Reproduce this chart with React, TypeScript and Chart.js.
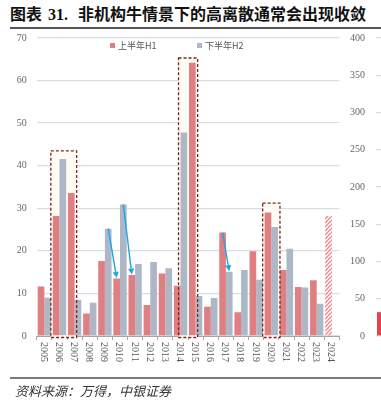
import React, { useEffect, useRef } from 'react';
import { Chart, registerables } from 'chart.js';

Chart.register(...registerables);

// ---- data ----
const years = ['2005', '2006', '2007', '2008', '2009', '2010', '2011', '2012', '2013', '2014', '2015', '2016', '2017', '2018', '2019', '2020', '2021', '2022', '2023', '2024'];
const h1Values = [11.6, 28.2, 33.6, 5.3, 17.6, 13.5, 14.3, 7.3, 14.7, 11.8, 64.2, 6.9, 24.3, 5.6, 19.9, 29.0, 15.5, 11.5, 13.1, 28.2];
const h2Values: (number | null)[] = [9.0, 41.6, 8.5, 7.8, 25.2, 30.9, 16.9, 17.4, 15.9, 47.8, 9.4, 8.9, 15.1, 15.5, 13.2, 25.6, 20.5, 11.4, 7.6, null];
const seriesNames = ['上半年H1', '下半年H2'];
const leftAxisMax = 70;
const leftAxisStep = 10;
const rightAxisMax = 400;
const rightAxisStep = 50;
const hatchedIndex = 19; // 2024 (partial year)
const sideLabels = [''];
const sideValues = [32];

// highlight boxes: from [dataset, index] to [dataset, index], top value
const boxes = [
  { from: [0, 1], to: [0, 2], top: 43.5 },
  { from: [1, 9], to: [0, 10], top: 65.3 },
  { from: [0, 15], to: [1, 15], top: 31.2 },
];
// arrows: from top of [dataset, index] to top of [dataset, index]
const arrows = [
  { from: [1, 4], to: [0, 5] },
  { from: [1, 5], to: [0, 6] },
  { from: [0, 12], to: [1, 12] },
];

const RED = '#E07F81';
const GREY = '#ADB7C5';
const GRID = '#D9DDE6';
const SERIF = '"Liberation Serif", "DejaVu Serif", serif';
const CJK = '"Noto Sans CJK SC", sans-serif';

function makeHatch(): CanvasPattern | string {
  const t = document.createElement('canvas');
  t.width = 4;
  t.height = 4;
  const c = t.getContext('2d');
  if (!c) return RED;
  c.fillStyle = '#ffffff';
  c.fillRect(0, 0, 4, 4);
  c.strokeStyle = '#E8878B';
  c.lineWidth = 1.3;
  c.beginPath();
  c.moveTo(0, 4);
  c.lineTo(4, 0);
  c.moveTo(-1, 1);
  c.lineTo(1, -1);
  c.moveTo(3, 5);
  c.lineTo(5, 3);
  c.stroke();
  const p = c.createPattern(t, 'repeat');
  return p || RED;
}

const decorPlugin = {
  id: 'decor',
  beforeDatasetsDraw(chart: any) {
    const ctx = chart.ctx;
    const y = chart.scales.y;
    ctx.save();
    ctx.fillStyle = '#FFFDF3';
    boxes.forEach((b) => {
      const e1 = chart.getDatasetMeta(b.from[0]).data[b.from[1]];
      const e2 = chart.getDatasetMeta(b.to[0]).data[b.to[1]];
      const l = e1.x - e1.width / 2 - 2;
      const r = e2.x + e2.width / 2 + 2;
      const t = y.getPixelForValue(b.top);
      const bt = y.getPixelForValue(0) + 1.5;
      ctx.fillRect(l, t, r - l, bt - t);
    });
    ctx.restore();
  },
  afterDatasetsDraw(chart: any) {
    const ctx = chart.ctx;
    const y = chart.scales.y;
    ctx.save();
    ctx.strokeStyle = '#7E2222';
    ctx.lineWidth = 1.3;
    ctx.setLineDash([3, 2]);
    boxes.forEach((b) => {
      const e1 = chart.getDatasetMeta(b.from[0]).data[b.from[1]];
      const e2 = chart.getDatasetMeta(b.to[0]).data[b.to[1]];
      const l = e1.x - e1.width / 2 - 2;
      const r = e2.x + e2.width / 2 + 2;
      const t = y.getPixelForValue(b.top);
      const bt = y.getPixelForValue(0) + 1.5;
      ctx.strokeRect(l, t, r - l, bt - t);
    });
    ctx.setLineDash([]);
    ctx.strokeStyle = '#1BA6E8';
    ctx.fillStyle = '#1BA6E8';
    ctx.lineWidth = 1.4;
    arrows.forEach((a) => {
      const e1 = chart.getDatasetMeta(a.from[0]).data[a.from[1]];
      const e2 = chart.getDatasetMeta(a.to[0]).data[a.to[1]];
      const x1 = e1.x, y1 = e1.y;
      const x2 = e2.x, y2 = e2.y - 0.5;
      const ang = Math.atan2(y2 - y1, x2 - x1);
      const hl = 6, hw = 3;
      const bx = x2 - hl * Math.cos(ang), by = y2 - hl * Math.sin(ang);
      ctx.beginPath();
      ctx.moveTo(x1, y1);
      ctx.lineTo(bx, by);
      ctx.stroke();
      ctx.beginPath();
      ctx.moveTo(x2, y2);
      ctx.lineTo(bx + hw * Math.sin(ang), by - hw * Math.cos(ang));
      ctx.lineTo(bx - hw * Math.sin(ang), by + hw * Math.cos(ang));
      ctx.closePath();
      ctx.fill();
    });
    ctx.restore();
  },
  afterDraw(chart: any) {
    const ctx = chart.ctx;
    const x = chart.scales.x;
    ctx.save();
    ctx.font = '10px ' + SERIF;
    ctx.fillStyle = '#555555';
    ctx.textAlign = 'left';
    ctx.textBaseline = 'middle';
    years.forEach((lab, i) => {
      const px = x.getPixelForTick(i) - 1;
      ctx.save();
      ctx.translate(px, x.top + 6);
      ctx.rotate(Math.PI / 2);
      ctx.fillText(lab, 0, 0);
      ctx.restore();
    });
    ctx.restore();
  },
};

export default function App() {
  const ref1 = useRef<HTMLCanvasElement>(null);
  const ref2 = useRef<HTMLCanvasElement>(null);

  useEffect(() => {
    const hatch = makeHatch();
    const redColors = h1Values.map((_, i) => (i === hatchedIndex ? hatch : RED));
    const c1 = new Chart(ref1.current as HTMLCanvasElement, {
      type: 'bar',
      data: {
        labels: years,
        datasets: [
          { label: seriesNames[0], data: h1Values, backgroundColor: redColors as any, borderWidth: 0 },
          { label: seriesNames[1], data: h2Values, backgroundColor: GREY, borderWidth: 0 },
        ],
      },
      options: {
        responsive: false,
        animation: false,
        devicePixelRatio: 1,
        categoryPercentage: 0.88,
        barPercentage: 1,
        layout: { padding: { left: 0, right: 41.6, top: 38, bottom: 27 } },
        plugins: { legend: { display: false }, tooltip: { enabled: false }, title: { display: false } },
        scales: {
          x: {
            type: 'category',
            offset: true,
            grid: { display: true, drawOnChartArea: false, drawTicks: true, tickLength: 4, color: '#A5A5A5', offset: true },
            border: { display: true, color: '#A5A5A5', width: 1 },
            ticks: { display: false },
            afterFit: (s: any) => { s.height = 40; },
          },
          y: {
            min: 0,
            max: leftAxisMax,
            grid: { color: GRID, lineWidth: 1.3, drawTicks: false },
            border: { display: false },
            ticks: { stepSize: leftAxisStep, padding: 10, color: '#666666', font: { family: SERIF, size: 10 } },
            afterFit: (s: any) => { s.width = 36.8; },
          },
        },
      } as any,
      plugins: [decorPlugin],
    });

    const c2 = new Chart(ref2.current as HTMLCanvasElement, {
      type: 'bar',
      data: {
        labels: sideLabels,
        datasets: [{ label: 'side', data: sideValues, backgroundColor: '#E5434C', borderWidth: 0 }],
      },
      options: {
        responsive: false,
        animation: false,
        devicePixelRatio: 1,
        categoryPercentage: 0.9,
        barPercentage: 1,
        layout: { padding: { left: 0, right: 4, top: 38, bottom: 67 } },
        plugins: { legend: { display: false }, tooltip: { enabled: false } },
        scales: {
          x: { display: false },
          y: {
            min: 0,
            max: rightAxisMax,
            grid: { color: GRID, lineWidth: 1.3, drawTicks: false },
            border: { display: false },
            ticks: { stepSize: rightAxisStep, padding: 11, color: '#666666', font: { family: SERIF, size: 10 } },
            afterFit: (s: any) => { s.width = 46; },
          },
        },
      } as any,
    });

    return () => {
      c1.destroy();
      c2.destroy();
    };
  }, []);

  const legendItem = (color: string, text: string, left: number) => (
    <div style={{ position: 'absolute', left, top: 39, height: 12, display: 'flex', alignItems: 'center', font: '9px ' + CJK, color: '#555' }}>
      <span style={{ display: 'inline-block', width: 5, height: 5, background: color, marginRight: 3 }} />
      <span>{text}</span>
    </div>
  );

  return (
    <div style={{ position: 'fixed', left: 0, top: 0, width: 381, height: 403, overflow: 'hidden', background: '#fff' }}>
      <div style={{ position: 'absolute', left: 10, top: 3, whiteSpace: 'nowrap', fontWeight: 700, fontSize: 16, lineHeight: '20px', color: '#111', fontFamily: SERIF + ', ' + CJK }}>
        <span style={{ fontFamily: CJK }}>图表</span>
        <span style={{ marginLeft: 6 }}>31.</span>
        <span style={{ marginLeft: 10, fontFamily: CJK }}>非机构牛情景下的高离散通常会出现收敛</span>
      </div>
      <div style={{ position: 'absolute', left: 10, right: 0, top: 27, height: 2, background: '#555' }} />
      <canvas ref={ref1} width={381} height={403} style={{ position: 'absolute', left: 0, top: 0 }} />
      <canvas ref={ref2} width={70} height={403} style={{ position: 'absolute', left: 330, top: 0 }} />
      {legendItem(RED, seriesNames[0], 110)}
      {legendItem(GREY, seriesNames[1], 197)}
      <div style={{ position: 'absolute', left: 10, right: 0, top: 377, height: 2, background: '#7A7A7A' }} />
      <div style={{ position: 'absolute', left: 15, top: 383, whiteSpace: 'nowrap', fontSize: 13, lineHeight: '16px', fontStyle: 'italic', color: '#333', fontFamily: CJK }}>
        资料来源：万得，中银证券
      </div>
    </div>
  );
}
